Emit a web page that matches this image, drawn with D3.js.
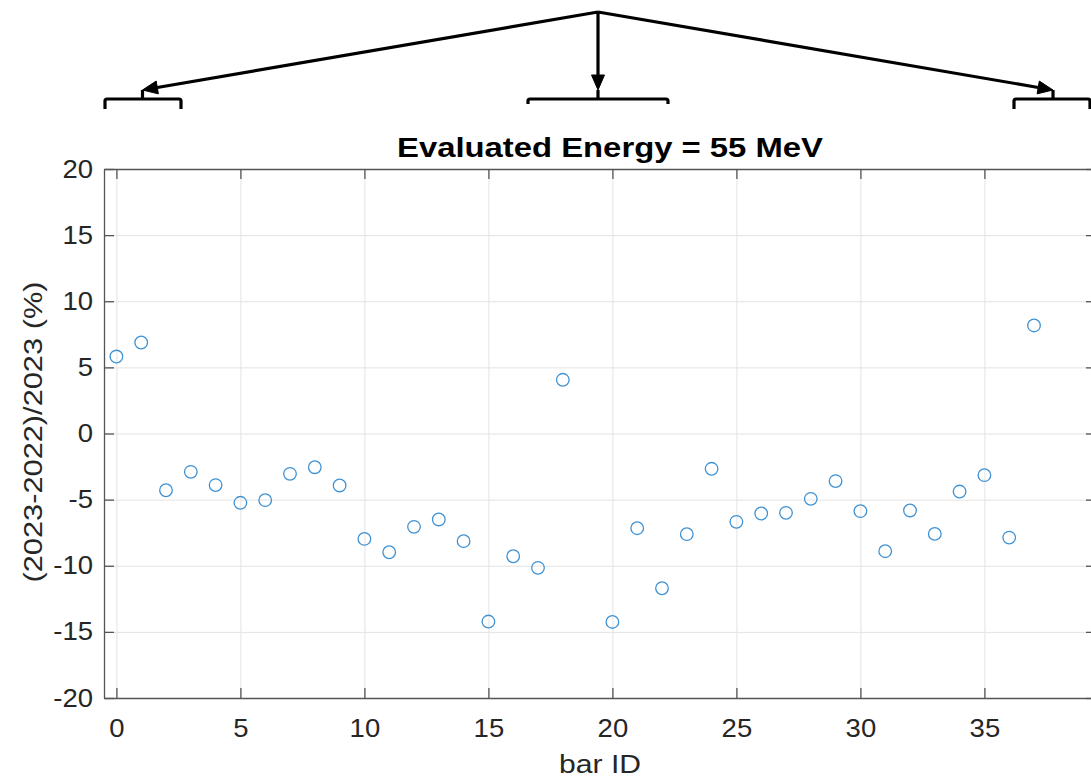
<!DOCTYPE html>
<html>
<head>
<meta charset="utf-8">
<script src="https://cdn.jsdelivr.net/npm/d3@7"></script>
<style>
  html, body { margin: 0; padding: 0; background: #fff; }
  svg { display: block; font-family: "Liberation Sans", Arial, Helvetica, sans-serif; }
</style>
</head>
<body>
<svg id="chart" width="1091" height="780"></svg>
<script>
// Bar IDs with a measured relative change (bar 19 has no value)
const barIds = [0, 1, 2, 3, 4, 5, 6, 7, 8, 9, 10, 11, 12, 13, 14, 15, 16, 17, 18,
                20, 21, 22, 23, 24, 25, 26, 27, 28, 29, 30, 31, 32, 33, 34, 35, 36, 37];
// (2023-2022)/2023 in percent
const diffPct = [5.82, 6.88, -4.29, -2.90, -3.90, -5.24, -5.04, -3.05, -2.55, -3.93,
                 -7.97, -8.98, -7.06, -6.50, -8.14, -14.22, -9.28, -10.16, 4.06,
                 -14.25, -7.16, -11.70, -7.61, -2.67, -6.68, -6.05, -6.00, -4.94, -3.60,
                 -5.87, -8.90, -5.82, -7.59, -4.39, -3.15, -7.87, 8.17];
const xTicks = [0, 5, 10, 15, 20, 25, 30, 35];
const yTicks = [-20, -15, -10, -5, 0, 5, 10, 15, 20];
const xDomain = [-0.5, 39.5];
const yDomain = [-20, 20];
const titleText = "Evaluated Energy = 55 MeV";
const xLabel = "bar ID";
const yLabel = "(2023-2022)/2023 (%)";

const svg = d3.select("#chart");
const plot = { left: 104, right: 1096, top: 169, bottom: 698 };

const x = d3.scaleLinear().domain(xDomain).range([plot.left, plot.right]);
const y = d3.scaleLinear().domain(yDomain).range([plot.bottom, plot.top]);

const textColor = "#262626";
const axisColor = "#555555";
const gridColor = "#e3e3e3";
const plainNum = d => String(d);

// widen a text element's glyphs horizontally by a factor
function widen(sel, factor) {
  sel.each(function () {
    const len = this.getComputedTextLength();
    d3.select(this).attr("textLength", len * factor).attr("lengthAdjust", "spacingAndGlyphs");
  });
}

// grid lines
svg.append("g")
  .attr("transform", `translate(0,${plot.bottom})`)
  .call(d3.axisBottom(x).tickValues(xTicks).tickSize(-(plot.bottom - plot.top)).tickFormat(""))
  .call(g => g.select(".domain").remove())
  .call(g => g.selectAll("line").attr("stroke", gridColor).attr("stroke-width", 1));
svg.append("g")
  .attr("transform", `translate(${plot.left},0)`)
  .call(d3.axisLeft(y).tickValues(yTicks).tickSize(-(plot.right - plot.left)).tickFormat(""))
  .call(g => g.select(".domain").remove())
  .call(g => g.selectAll("line").attr("stroke", gridColor).attr("stroke-width", 1));

// axes box with inward ticks
const tickLen = 10;
function styleAxis(g) {
  g.select(".domain").attr("stroke", axisColor).attr("stroke-width", 1.3);
  g.selectAll(".tick line").attr("stroke", axisColor).attr("stroke-width", 1.3);
  g.selectAll(".tick text").attr("fill", textColor).attr("font-size", 25);
}
svg.append("g")
  .attr("transform", `translate(0,${plot.bottom})`)
  .call(d3.axisBottom(x).tickValues(xTicks).tickSizeInner(-tickLen).tickSizeOuter(0).tickPadding(21.5).tickFormat(plainNum))
  .call(styleAxis)
  .call(g => widen(g.selectAll(".tick text"), 1.1));
svg.append("g")
  .attr("transform", `translate(0,${plot.top})`)
  .call(d3.axisTop(x).tickValues(xTicks).tickSizeInner(-tickLen).tickSizeOuter(0).tickFormat(""))
  .call(styleAxis);
svg.append("g")
  .attr("transform", `translate(${plot.left},0)`)
  .call(d3.axisLeft(y).tickValues(yTicks).tickSizeInner(-tickLen).tickSizeOuter(0).tickPadding(11).tickFormat(plainNum))
  .call(styleAxis)
  .call(g => widen(g.selectAll(".tick text"), 1.1));
svg.append("g")
  .attr("transform", `translate(${plot.right},0)`)
  .call(d3.axisRight(y).tickValues(yTicks).tickSizeInner(-tickLen).tickSizeOuter(0).tickFormat(""))
  .call(styleAxis);

// data markers
svg.append("g")
  .selectAll("circle")
  .data(barIds.map((id, i) => ({ id, v: diffPct[i] })))
  .join("circle")
  .attr("cx", d => x(d.id))
  .attr("cy", d => y(d.v))
  .attr("r", 6.3)
  .attr("fill", "none")
  .attr("stroke", "#3f92d4")
  .attr("stroke-width", 1.3);

// title and axis labels
svg.append("text")
  .attr("x", 610).attr("y", 157)
  .attr("text-anchor", "middle")
  .attr("font-size", 27).attr("font-weight", "bold")
  .attr("fill", "#000")
  .text(titleText)
  .attr("textLength", 426).attr("lengthAdjust", "spacingAndGlyphs");
svg.append("text")
  .attr("x", 600).attr("y", 773)
  .attr("text-anchor", "middle")
  .attr("font-size", 26)
  .attr("fill", textColor)
  .text(xLabel)
  .attr("textLength", 82).attr("lengthAdjust", "spacingAndGlyphs");
svg.append("text")
  .attr("transform", `translate(42,432) rotate(-90)`)
  .attr("text-anchor", "middle")
  .attr("font-size", 26)
  .attr("fill", textColor)
  .text(yLabel)
  .attr("textLength", 301).attr("lengthAdjust", "spacingAndGlyphs");

// bracket-and-arrow annotation above the axes
const apex = [598, 12];
const brackets = [
  { x0: 105, x1: 181, stem: 142.5, legs: 10 },
  { x0: 528, x1: 668, stem: 598, legs: 5 },
  { x0: 1014, x1: 1090, stem: 1053, legs: 10 }
];
const bracketTop = 99, arrowTip = 90;
const ann = svg.append("g").attr("stroke", "#000").attr("fill", "none")
  .attr("stroke-width", 3.2).attr("stroke-linejoin", "round");
brackets.forEach(b => {
  ann.append("path")
    .attr("d", `M${b.x0},${bracketTop + b.legs} L${b.x0},${bracketTop + 2} Q${b.x0},${bracketTop} ${b.x0 + 2},${bracketTop}
                L${b.x1 - 2},${bracketTop} Q${b.x1},${bracketTop} ${b.x1},${bracketTop + 2} L${b.x1},${bracketTop + b.legs}`);
  ann.append("line")
    .attr("x1", b.stem).attr("y1", arrowTip).attr("x2", b.stem).attr("y2", bracketTop);
  // arrow shaft and head
  const dx = b.stem - apex[0], dy = arrowTip - apex[1];
  const len = Math.hypot(dx, dy);
  const ux = dx / len, uy = dy / len;
  const headLen = 15, headHalf = 6.5;
  const bx = b.stem - ux * headLen, by = arrowTip - uy * headLen;
  ann.append("line")
    .attr("x1", apex[0]).attr("y1", apex[1]).attr("x2", bx).attr("y2", by);
  ann.append("path")
    .attr("d", `M${b.stem},${arrowTip} L${bx - uy * headHalf},${by + ux * headHalf} L${bx + uy * headHalf},${by - ux * headHalf} Z`)
    .attr("fill", "#000").attr("stroke-width", 1);
});
</script>
</body>
</html>
